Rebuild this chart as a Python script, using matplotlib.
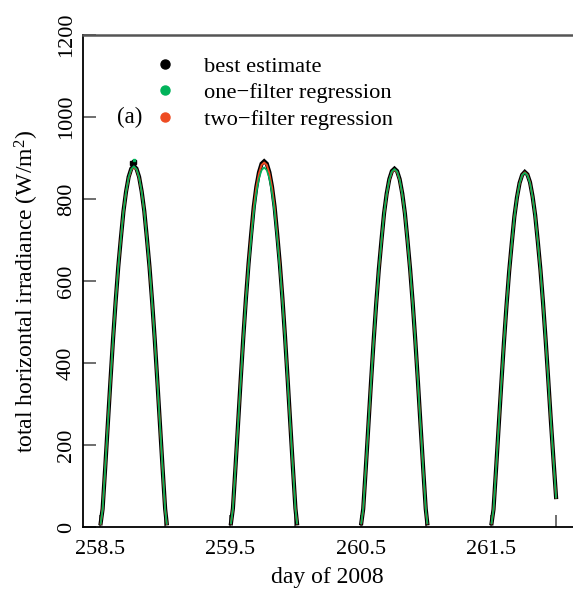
import matplotlib
matplotlib.use("Agg")
import matplotlib.pyplot as plt
from matplotlib.lines import Line2D

plt.rcParams['font.family'] = ['Liberation Serif', 'DejaVu Serif']
plt.rcParams['mathtext.fontset'] = 'custom'
plt.rcParams['mathtext.rm'] = 'Liberation Serif'
plt.rcParams['mathtext.it'] = 'Liberation Serif'

# ---- data ----
day_starts = [258, 259, 260, 261]
offsets = [0.505, 0.52, 0.54, 0.56, 0.58, 0.60, 0.62, 0.64, 0.66, 0.68, 0.70, 0.72, 0.74,
           0.76, 0.78, 0.80, 0.82, 0.84, 0.86, 0.88, 0.90, 0.92, 0.94, 0.96, 0.98, 1.00, 1.012]

best_d1 = [9, 44, 145, 251, 356, 458, 550, 634, 704, 770, 818, 854, 874, 881, 874, 854, 818, 770, 704, 634, 550, 458, 356, 251, 145, 44, 9]
best_d2 = [9, 45, 147, 254, 361, 464, 558, 642, 714, 781, 830, 865, 886, 892, 886, 865, 830, 781, 714, 642, 558, 464, 361, 254, 147, 45, 9]
best_d3 = [9, 44, 144, 249, 354, 454, 546, 629, 699, 765, 813, 848, 868, 874, 868, 848, 813, 765, 699, 629, 546, 454, 354, 249, 144, 44, 9]
best_d4 = [9, 43, 143, 247, 350, 450, 541, 623, 692, 757, 804, 839, 859, 866, 860, 841, 806, 760, 696, 628, 547, 457, 360, 260, 165, 73]

one_d1 = [8, 42, 143, 250, 355, 457, 549, 633, 703, 769, 817, 853, 873, 880, 873, 853, 817, 769, 703, 633, 549, 457, 355, 250, 144, 43, 8]
one_d2 = [9, 44, 146, 252, 358, 460, 552, 634, 704, 768, 815, 850, 870, 877, 870, 850, 815, 768, 704, 634, 552, 460, 358, 252, 146, 44, 9]
one_d3 = [9, 44, 143, 248, 353, 453, 545, 628, 698, 764, 812, 847, 867, 873, 867, 847, 812, 764, 698, 628, 545, 453, 353, 248, 143, 44, 9]
one_d4 = [9, 43, 142, 246, 349, 449, 540, 622, 691, 756, 803, 838, 858, 864, 858, 839, 805, 758, 695, 627, 546, 456, 359, 259, 164, 72]

two_d1 = [8, 43, 144, 250, 355, 457, 550, 633, 704, 769, 817, 852, 872, 878, 872, 852, 817, 769, 703, 633, 549, 457, 355, 250, 144, 43, 8]
two_d2 = [9, 45, 147, 253, 360, 463, 557, 641, 712, 779, 828, 862, 883, 889, 883, 862, 828, 779, 712, 641, 557, 463, 360, 253, 147, 45, 9]
two_d3 = [9, 43, 143, 248, 353, 453, 545, 627, 697, 763, 811, 846, 866, 872, 866, 846, 811, 763, 697, 627, 545, 453, 353, 248, 143, 43, 9]
two_d4 = [9, 43, 143, 247, 350, 450, 541, 622, 691, 756, 803, 838, 858, 865, 859, 840, 805, 759, 695, 627, 546, 456, 359, 259, 164, 72]

# scattered points near the first peak
best_extra_t = [258.743, 258.758]
best_extra_v = [889, 891]
one_extra_t = [258.764]
one_extra_v = [894]

best = [best_d1, best_d2, best_d3, best_d4]
one = [one_d1, one_d2, one_d3, one_d4]
two = [two_d1, two_d2, two_d3, two_d4]

xticks = [258.5, 259.0, 259.5, 260.0, 260.5, 261.0, 261.5, 262.0]
xticklabels = ['258.5', '', '259.5', '', '260.5', '', '261.5', '']
yticks = [0, 200, 400, 600, 800, 1000, 1200]

C_BEST = '#000000'
C_ONE = '#00B35A'
C_TWO = '#EE4B22'

# ---- figure ----
W, H = 573, 591
fig = plt.figure(figsize=(W / 100, H / 100), dpi=100)
ax_l, ax_r, ax_t, ax_b = 83, 600, 35, 527
ax = fig.add_axes([ax_l / W, 1 - ax_b / H, (ax_r - ax_l) / W, (ax_b - ax_t) / H])

for d0, b, o, t in zip(day_starts, best, one, two):
    tt = [d0 + off for off in offsets[:len(b)]]
    ax.plot(tt, b, color=C_BEST, lw=3.0, solid_joinstyle='miter', zorder=2)
    ax.plot(tt, t, color=C_TWO, lw=1.4, zorder=3)
    ax.plot(tt, o, color=C_ONE, lw=1.2, zorder=4)

ax.plot(best_extra_t, best_extra_v, 's', color=C_BEST, ms=2.5, zorder=2)
ax.plot(one_extra_t, one_extra_v, 's', color=C_ONE, ms=1.8, zorder=4)

ax.set_xlim(258.5 - 17 / 130.3, 258.5 + (ax_r - 100) / 130.3)
ax.set_ylim(0, 1200)

ax.set_xticks(xticks)
ax.set_xticklabels(xticklabels)
ax.set_yticks(yticks)
ax.set_yticklabels([str(v) for v in yticks], rotation=90, va='center')
ax.tick_params(axis='both', direction='in', length=9, width=1.2, colors='#555555',
               labelcolor='black', labelsize=16)
ax.tick_params(axis='x', pad=9)
ax.tick_params(axis='y', pad=5)

ax.spines['right'].set_visible(False)
ax.spines['left'].set_color('black')
ax.spines['left'].set_linewidth(1.3)
ax.spines['bottom'].set_color('black')
ax.spines['bottom'].set_linewidth(1.3)
ax.spines['top'].set_color('#555555')
ax.spines['top'].set_linewidth(1.8)

ax.text(258.73, 1000, '(a)', fontsize=16.5, ha='center', va='center')

fig.text(327 / W, 1 - 578 / H, 'day of 2008', fontsize=17, ha='center', va='center')
fig.text(27 / W, 1 - 292 / H, 'total horizontal irradiance (W/m$^2$)', fontsize=17,
         rotation=90, ha='center', va='center')

handles = [Line2D([], [], marker='o', ls='none', color=c, markersize=6.5)
           for c in (C_BEST, C_ONE, C_TWO)]
ax.legend(handles, ['best estimate', 'one\u2212filter regression', 'two\u2212filter regression'],
          loc='upper left', bbox_to_anchor=(153.8 / W, 1 - 56 / H),
          bbox_transform=fig.transFigure, frameon=False, fontsize=16.2,
          handlelength=1.0, handletextpad=1.25, labelspacing=0.26,
          borderpad=0, borderaxespad=0)

fig.savefig('out.png', dpi=100)
